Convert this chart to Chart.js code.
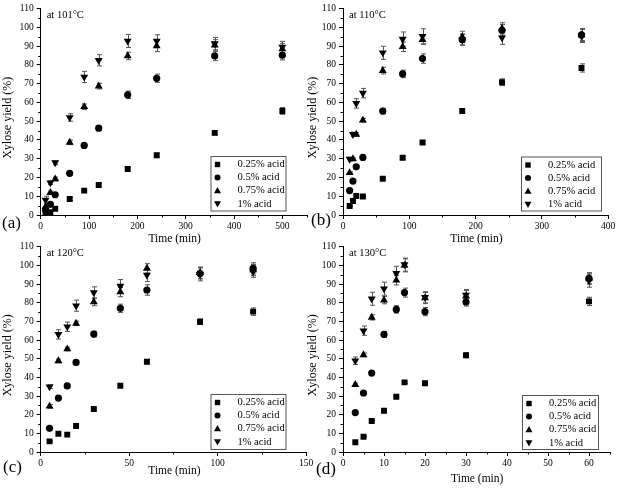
<!DOCTYPE html>
<html>
<head>
<meta charset="utf-8">
<script src="https://cdn.jsdelivr.net/npm/chart.js@4/dist/chart.umd.min.js"></script>
<style>
    html, body { margin: 0; padding: 0; background: #fff; }
    #wrap { position: relative; width: 618px; height: 488px; }
    #wrap canvas { position: absolute; left: 0; top: 0; }
</style>
</head>
<body>
<div id="wrap">
    <canvas id="chart-a" width="618" height="488"></canvas>
    <canvas id="chart-b" width="618" height="488"></canvas>
    <canvas id="chart-c" width="618" height="488"></canvas>
    <canvas id="chart-d" width="618" height="488"></canvas>
</div>
<script>
// series names (legend)
const seriesNames = ['0.25% acid', '0.5% acid', '0.75% acid', '1% acid']

// y axis ticks, shared
const yTicks = [0, 10, 20, 30, 40, 50, 60, 70, 80, 90, 100, 110]
const yMinor = [5, 15, 25, 35, 45, 55, 65, 75, 85, 95, 105]

// (a) 101 C
const timeA = [10, 20, 30, 60, 90, 120, 180, 240, 360, 500]
const yieldA1 = [1.2, 1.5, 3.3, 8.5, 13.0, 16.0, 24.5, 31.9, 43.8, 55.5]
const yieldA2 = [2.8, 5.7, 10.8, 22.2, 37.1, 46.3, 64.1, 72.9, 84.8, 85.2]
const yieldA3 = [4.4, 11.9, 19.2, 38.7, 57.7, 68.7, 84.8, 90.1, 90.5, 88.5]
const yieldA4 = [8.0, 17.2, 27.9, 52.0, 73.6, 82.5, 92.8, 92.8, 91.4, 89.6]
const errA1 = [0.3, 0.3, 0.5, 0.8, 0.8, 0.8, 1.0, 1.0, 1.2, 1.8]
const errA2 = [0.5, 0.6, 0.8, 0.8, 1.0, 1.0, 2.0, 2.2, 2.5, 2.5]
const errA3 = [0.8, 0.8, 1.0, 1.2, 1.5, 1.5, 2.0, 3.0, 3.0, 3.0]
const errA4 = [2.0, 1.0, 1.0, 2.0, 3.0, 3.0, 3.5, 3.3, 3.3, 3.0]
const xTicksA = [0, 100, 200, 300, 400, 500]
const xMinorA = [50, 150, 250, 350, 450, 550]

// (b) 110 C
const timeB = [10, 15, 20, 30, 60, 90, 120, 180, 240, 360]
const yieldB1 = [4.8, 7.5, 10.1, 9.9, 19.3, 30.5, 38.7, 55.5, 70.8, 78.4]
const yieldB2 = [13.0, 18.1, 25.7, 30.7, 55.4, 75.2, 83.4, 93.5, 98.5, 96.0]
const yieldB3 = [22.5, 29.9, 43.0, 50.5, 77.0, 89.7, 93.5, 95.0, 99.5, 96.0]
const yieldB4 = [29.8, 43.0, 59.5, 65.0, 86.5, 93.8, 95.3, 93.5, 94.5, 95.5]
const errB1 = [0.3, 0.3, 0.4, 0.4, 0.6, 0.8, 0.8, 1.2, 1.8, 2.2]
const errB2 = [0.5, 0.6, 0.8, 0.8, 1.5, 2.0, 2.5, 2.8, 3.0, 3.5]
const errB3 = [0.5, 0.6, 1.0, 1.0, 1.8, 2.5, 2.5, 3.0, 3.0, 3.0]
const errB4 = [1.0, 1.2, 2.5, 2.5, 3.5, 3.8, 4.0, 3.0, 3.5, 3.5]
const xTicksB = [0, 100, 200, 300, 400]
const xMinorB = [50, 150, 250, 350]

// (c) 120 C
const timeC = [5, 10, 15, 20, 30, 45, 60, 90, 120]
const yieldC1 = [5.7, 9.8, 9.3, 13.9, 23.0, 35.5, 48.4, 69.8, 75.2]
const yieldC2 = [12.7, 28.9, 35.4, 48.0, 63.2, 77.0, 86.8, 95.7, 98.4]
const yieldC3 = [24.5, 48.8, 55.2, 68.9, 80.4, 85.7, 98.4, 96.1, 97.5]
const yieldC4 = [35.0, 63.0, 67.1, 78.4, 85.5, 88.9, 94.8, 95.2, 96.6]
const errC1 = [0.3, 0.3, 0.3, 0.4, 0.5, 0.6, 1.2, 1.5, 2.0]
const errC2 = [0.5, 0.8, 0.8, 1.0, 1.5, 2.2, 2.8, 3.0, 3.0]
const errC3 = [1.0, 1.0, 1.0, 1.2, 2.0, 2.5, 2.5, 3.0, 3.0]
const errC4 = [1.0, 2.5, 2.5, 3.0, 3.0, 3.5, 3.5, 3.5, 3.0]
const xTicksC = [0, 50, 100, 150]
const xMinorC = [25, 75, 125]

// (d) 130 C
const timeD = [3, 5, 7, 10, 13, 15, 20, 30, 60]
const yieldD1 = [5.2, 8.2, 16.6, 22.1, 29.6, 37.3, 36.8, 51.8, 80.7]
const yieldD2 = [21.1, 31.6, 42.3, 63.0, 76.4, 85.4, 75.2, 80.4, 93.0]
const yieldD3 = [36.1, 52.0, 72.1, 81.4, 92.0, 100.0, 82.5, 83.5, 93.0]
const yieldD4 = [48.9, 65.0, 82.1, 87.5, 95.7, 100.4, 82.9, 84.1, 91.8]
const errD1 = [0.3, 0.3, 0.4, 0.5, 0.6, 0.6, 0.6, 1.3, 2.2]
const errD2 = [0.5, 0.6, 0.8, 1.6, 2.0, 2.4, 2.2, 2.2, 3.0]
const errD3 = [0.8, 1.0, 1.4, 2.0, 2.5, 3.5, 3.0, 3.0, 3.0]
const errD4 = [2.0, 2.5, 3.5, 3.5, 3.8, 3.5, 3.0, 3.0, 3.5]
const xTicksD = [0, 10, 20, 30, 40, 50, 60]
const xMinorD = [5, 15, 25, 35, 45, 55, 65]

const FONT = '"Liberation Serif", "Times New Roman", serif'
Chart.defaults.font.family = FONT
Chart.defaults.color = '#000'

const markers = [
    { pointStyle: 'rect', radius: 4.2, rotation: 0 },
    { pointStyle: 'circle', radius: 3.6, rotation: 0 },
    { pointStyle: 'triangle', radius: 4.6, rotation: 0 },
    { pointStyle: 'triangle', radius: 4.6, rotation: 180 }
]

function drawLegendMarker(ctx, i, x, y) {
    ctx.beginPath()
    if (i === 0) {
        ctx.rect(x - 2.7, y - 2.7, 5.4, 5.4)
    } else if (i === 1) {
        ctx.arc(x, y, 3, 0, Math.PI * 2)
    } else if (i === 2) {
        ctx.moveTo(x, y - 3.6); ctx.lineTo(x + 3.5, y + 2.6); ctx.lineTo(x - 3.5, y + 2.6)
    } else {
        ctx.moveTo(x, y + 3.6); ctx.lineTo(x + 3.5, y - 2.6); ctx.lineTo(x - 3.5, y - 2.6)
    }
    ctx.closePath()
    ctx.fill()
}

const decoPlugin = {
    id: 'deco',
    beforeDatasetsDraw(chart) {
        const { ctx, scales: { x, y } } = chart
        ctx.save()
        ctx.strokeStyle = '#555'
        ctx.lineWidth = 1
        chart.data.datasets.forEach(ds => {
            ds.data.forEach((p, i) => {
                const e = ds.err[i]
                const px = Math.round(x.getPixelForValue(p.x)) + 0.5
                const top = y.getPixelForValue(p.y + e)
                const bot = y.getPixelForValue(p.y - e)
                ctx.beginPath()
                ctx.moveTo(px, top); ctx.lineTo(px, bot)
                ctx.moveTo(px - 2.5, top); ctx.lineTo(px + 2.5, top)
                ctx.moveTo(px - 2.5, bot); ctx.lineTo(px + 2.5, bot)
                ctx.stroke()
            })
        })
        ctx.restore()
    },
    afterDraw(chart) {
        const o = chart.options.plugins.deco
        const { ctx, chartArea: area, scales: { x, y } } = chart
        ctx.save()
        // minor ticks
        ctx.strokeStyle = '#000'
        ctx.lineWidth = 1
        ctx.beginPath()
        o.xMinor.forEach(v => {
            const px = Math.round(x.getPixelForValue(v)) + 0.5
            ctx.moveTo(px, area.bottom); ctx.lineTo(px, area.bottom + 2.5)
        })
        yMinor.forEach(v => {
            const py = Math.round(y.getPixelForValue(v)) + 0.5
            ctx.moveTo(area.left, py); ctx.lineTo(area.left - 2.5, py)
        })
        ctx.stroke()

        ctx.fillStyle = '#000'
        // temperature note
        ctx.font = '10.5px ' + FONT
        ctx.textAlign = 'left'
        ctx.textBaseline = 'middle'
        ctx.fillText(o.temp, area.left + 6, area.top + 6.5)

        // panel label
        ctx.font = '17px ' + FONT
        ctx.fillText(o.label, o.labelPos[0], o.labelPos[1])

        // axis titles
        ctx.font = '11.5px ' + FONT
        ctx.textAlign = 'center'
        ctx.fillText('Time (min)', (area.left + area.right) / 2 + 1, area.bottom + o.xTitleGap)
        ctx.font = '12px ' + FONT
        ctx.save()
        ctx.translate(area.left - o.yTitleGap, (area.top + area.bottom) / 2 + 6)
        ctx.rotate(-Math.PI / 2)
        ctx.fillText('Xylose yield (%)', 0, 0)
        ctx.restore()

        // legend
        const [bx, by, bw, bh] = o.legendBox
        ctx.strokeStyle = '#555'
        ctx.strokeRect(bx + 0.5, by + 0.5, bw, bh)
        ctx.font = '10.5px ' + FONT
        ctx.textAlign = 'left'
        seriesNames.forEach((name, i) => {
            const ry = by + 8.5 + i * 13.1
            drawLegendMarker(ctx, i, bx + 7, ry)
            ctx.fillText(name, bx + 27, ry)
        })
        ctx.restore()
    }
}

function makeDatasets(time, ys, errs) {
    return ys.map((vals, k) => ({
        label: seriesNames[k],
        data: time.map((t, i) => ({ x: t, y: vals[i] })),
        err: errs[k],
        showLine: false,
        pointStyle: markers[k].pointStyle,
        pointRadius: markers[k].radius,
        pointRotation: markers[k].rotation,
        pointBorderWidth: 0,
        pointBackgroundColor: '#000',
        pointBorderColor: '#000'
    }))
}

function createPanel(canvasId, panel) {
    const ctx = document.getElementById(canvasId)
    const [left, top, right, bottom] = panel.plot
    new Chart(ctx, {
        type: 'scatter',
        data: { datasets: makeDatasets(panel.time, panel.ys, panel.errs) },
        options: {
            responsive: false,
            animation: false,
            devicePixelRatio: 1,
            layout: {
                padding: { left: left - 30, top: top, right: 618 - right, bottom: 488 - bottom - 20 }
            },
            plugins: {
                legend: { display: false },
                tooltip: { enabled: false },
                deco: panel.deco
            },
            scales: {
                x: {
                    type: 'linear',
                    min: 0,
                    max: panel.xMax,
                    afterBuildTicks: s => { s.ticks = panel.xTicks.map(v => ({ value: v })) },
                    afterFit: s => { s.height = 20 },
                    grid: { drawOnChartArea: false, tickLength: 4, color: '#000' },
                    border: { color: '#000', width: 1 },
                    ticks: { padding: 2, font: { size: 9.5 }, color: '#000', maxRotation: 0, autoSkip: false }
                },
                y: {
                    type: 'linear',
                    min: 0,
                    max: 110,
                    afterBuildTicks: s => { s.ticks = yTicks.map(v => ({ value: v })) },
                    afterFit: s => { s.width = 30 },
                    grid: { drawOnChartArea: false, tickLength: 4, color: '#000' },
                    border: { color: '#000', width: 1 },
                    ticks: { padding: 3, font: { size: 9.5 }, color: '#000', autoSkip: false }
                }
            }
        },
        plugins: [decoPlugin]
    })
}

createPanel('chart-a', {
    plot: [40.7, 8.3, 306.5, 215],
    xMax: 550,
    xTicks: xTicksA,
    time: timeA,
    ys: [yieldA1, yieldA2, yieldA3, yieldA4],
    errs: [errA1, errA2, errA3, errA4],
    deco: { temp: 'at 101°C', label: '(a)', labelPos: [2, 224], xMinor: xMinorA,
            xTitleGap: 24, yTitleGap: 32.5, legendBox: [210.5, 156, 75, 54.5] }
})

createPanel('chart-b', {
    plot: [343, 8.3, 608, 215],
    xMax: 400,
    xTicks: xTicksB,
    time: timeB,
    ys: [yieldB1, yieldB2, yieldB3, yieldB4],
    errs: [errB1, errB2, errB3, errB4],
    deco: { temp: 'at 110°C', label: '(b)', labelPos: [311, 221], xMinor: xMinorB,
            xTitleGap: 24, yTitleGap: 30, legendBox: [521, 156.5, 80, 54] }
})

createPanel('chart-c', {
    plot: [40.7, 246.7, 306.2, 452],
    xMax: 150,
    xTicks: xTicksC,
    time: timeC,
    ys: [yieldC1, yieldC2, yieldC3, yieldC4],
    errs: [errC1, errC2, errC3, errC4],
    deco: { temp: 'at 120°C', label: '(c)', labelPos: [3, 468], xMinor: xMinorC,
            xTitleGap: 19, yTitleGap: 32.5, legendBox: [210.5, 394, 75, 55] }
})

createPanel('chart-d', {
    plot: [343, 246.7, 609.5, 452],
    xMax: 65,
    xTicks: xTicksD,
    time: timeD,
    ys: [yieldD1, yieldD2, yieldD3, yieldD4],
    errs: [errD1, errD2, errD3, errD4],
    deco: { temp: 'at 130°C', label: '(d)', labelPos: [316, 470], xMinor: xMinorD,
            xTitleGap: 27, yTitleGap: 30, legendBox: [522, 395, 76, 54] }
})
</script>
</body>
</html>
